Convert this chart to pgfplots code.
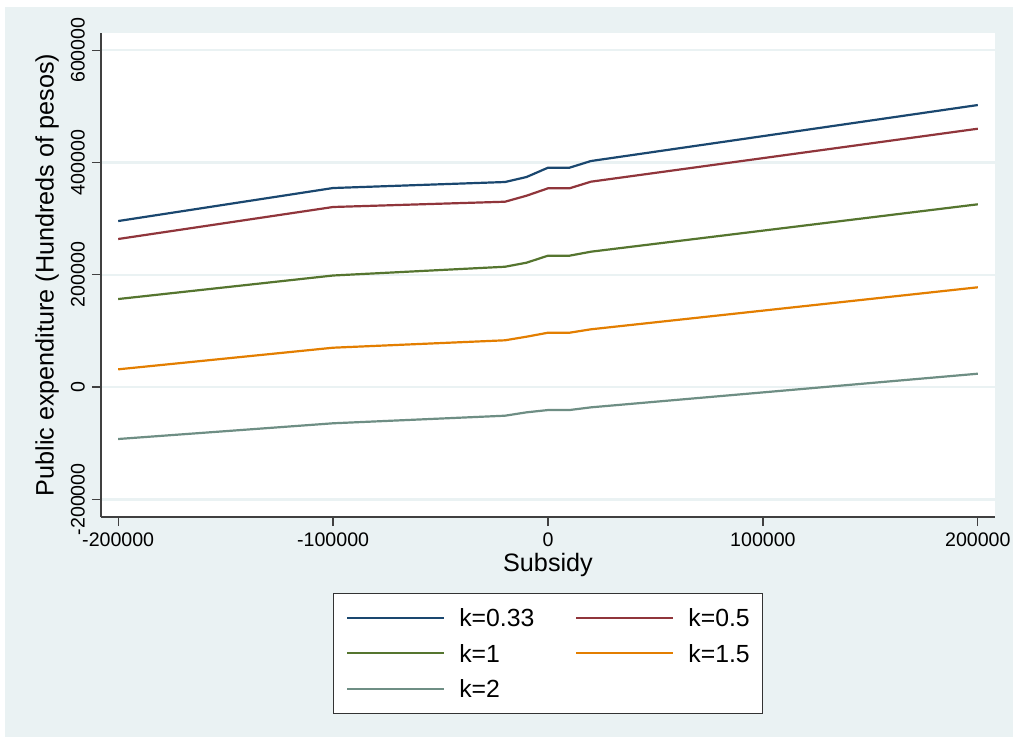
\documentclass[border=0pt]{standalone}
\usepackage{fontspec}
\setmainfont{Liberation Sans}
\usepackage{pgfplots}
\pgfplotsset{compat=1.18}
\definecolor{sNavy}{RGB}{26,71,111}
\definecolor{sMaroon}{RGB}{144,53,59}
\definecolor{sGreen}{RGB}{85,117,47}
\definecolor{sOrange}{RGB}{227,126,0}
\definecolor{sTeal}{RGB}{110,142,132}
\definecolor{bgc}{RGB}{234,242,243}
\begin{document}
\begin{tikzpicture}
\useasboundingbox (0,0) rectangle (509pt,370pt);
\fill[white] (0,0) rectangle (509pt,370pt);
\fill[bgc] (2.5pt,1.5pt) rectangle (506.5pt,366.5pt);
\begin{axis}[
  at={(50.5pt,111.5pt)}, anchor=south west,
  width=447pt, height=242pt, scale only axis,
  xmin=-208000, xmax=208000, ymin=-231500, ymax=630500,
  scaled ticks=false,
  axis background/.style={fill=white},
  axis x line*=bottom, axis y line*=left,
  axis line style={-, draw=black!75, line width=0.6pt},
  xtick={-200000,-100000,0,100000,200000},
  xticklabels={-200000,-100000,0,100000,200000},
  ytick={-200000,0,200000,400000,600000},
  yticklabels={-200000,0,200000,400000,600000},
  tick align=outside, major tick length=4.5pt,
  tick style={draw=black!75, line width=0.6pt},
  minor tick num=0,
  ymajorgrids, grid style={draw=bgc, line width=1.2pt},
  /pgf/number format/assume math mode=true,
  ticklabel style={font=\fontsize{9.8}{11}\selectfont},
  yticklabel style={rotate=90, anchor=south},
  xticklabel style={anchor=north},
  label style={font=\fontsize{12.6}{15}\selectfont},
  xlabel={Subsidy},
  ylabel={Public expenditure (Hundreds of pesos)},
  xlabel style={at={(axis description cs:0.5,-0.0992)}, anchor=center},
  ylabel style={at={(axis description cs:-0.0604,0.5)}, anchor=center},
  legend columns=2,
  legend cell align=left,
  legend image code/.code={\draw[#1, line width=1pt] (0pt,0pt) -- (48.5pt,0pt);},
  legend style={at={(axis description cs:0.5,-0.157)}, anchor=north,
    draw=black!80, fill=white, line width=0.6pt,
    font=\fontsize{12.4}{15}\selectfont,
    inner xsep=6.5pt, inner ysep=7.7pt, row sep=8.75pt,
    nodes={inner sep=0pt, text height=9pt, text depth=0pt},
    /tikz/every odd column/.append style={column sep=7pt},
    /tikz/every even column/.append style={column sep=20.5pt}},
  every axis plot/.append style={line width=1.1pt, mark=none},
]
\addplot[sNavy] coordinates {(-200000,295600) (-100000,354400) (-20000,365100) (-10000,374000) (0,390600) (10000,390600) (20000,402500) (200000,502200)};
\addlegendentry{k=0.33}
\addplot[sMaroon] coordinates {(-200000,263600) (-100000,320600) (-20000,330000) (-10000,340700) (0,353900) (10000,353900) (20000,365700) (200000,460000)};
\addlegendentry{k=0.5}
\addplot[sGreen] coordinates {(-200000,156700) (-100000,198600) (-20000,214200) (-10000,221400) (0,233900) (10000,233900) (20000,241000) (200000,325400)};
\addlegendentry{k=1}
\addplot[sOrange] coordinates {(-200000,31500) (-100000,70000) (-20000,83200) (-10000,89600) (0,96700) (10000,96700) (20000,102800) (200000,177600)};
\addlegendentry{k=1.5}
\addplot[sTeal] coordinates {(-200000,-92600) (-100000,-64600) (-20000,-51100) (-10000,-45100) (0,-41000) (10000,-41000) (20000,-36200) (200000,23700)};
\addlegendentry{k=2}
\end{axis}
\end{tikzpicture}
\end{document}
